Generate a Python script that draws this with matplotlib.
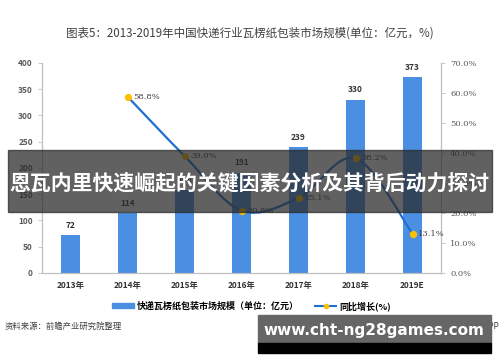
import matplotlib
matplotlib.use("Agg")
import matplotlib.pyplot as plt
from matplotlib.path import Path
from matplotlib.patches import PathPatch, Rectangle
from matplotlib.lines import Line2D
from matplotlib.patches import Patch

plt.rcParams['font.family'] = ['Noto Sans CJK SC', 'DejaVu Sans']

years = ['2013年', '2014年', '2015年', '2016年', '2017年', '2018年', '2019E']
scale = [72, 114, 158, 191, 239, 330, 373]
growth = [None, 58.8, 39.0, 20.8, 25.1, 38.2, 13.1]
left_ticks = [0, 50, 100, 150, 200, 250, 300, 350, 400]
right_ticks = [0, 10, 20, 30, 40, 50, 60, 70]

bar_color = '#4a8fe2'
line_color = '#1f6fd1'
dot_color = '#ffc000'
grey = '#595959'

fig = plt.figure(figsize=(5.0, 3.62), dpi=100)
ax = fig.add_axes([0.084, 0.246, 0.798, 0.58])
ax2 = ax.twinx()

x = list(range(len(years)))
ax.bar(x, scale, width=0.32, color=bar_color, zorder=2)
for xi, v in zip(x, scale):
    ax.text(xi, v + 10, str(v), ha='center', va='bottom', fontsize=6,
            fontweight='bold', color='#333333')

ax.set_xlim(-0.5, len(years) - 0.5)
ax.set_ylim(0, 400)
ax.set_yticks(left_ticks)
ax.set_yticklabels([str(t) for t in left_ticks], fontsize=6, color=grey, fontweight='bold')
ax.set_xticks(x)
ax.set_xticklabels(years, fontsize=6, fontweight='bold', color='#333333')
ax.tick_params(axis='x', length=0, pad=6)
ax.tick_params(axis='y', length=3, color='#bfbfbf', width=0.6)

ax2.set_ylim(0, 70)
ax2.set_yticks(right_ticks)
ax2.set_yticklabels(['%.1f%%' % t for t in right_ticks], fontsize=6, color=grey,
                    family=['DejaVu Serif'])
ax2.tick_params(axis='y', length=3, color='#bfbfbf', width=0.6)

for a in (ax, ax2):
    a.spines['top'].set_visible(False)
    for s in ('left', 'right', 'bottom'):
        a.spines[s].set_color('#bfbfbf')
        a.spines[s].set_linewidth(0.8)

# smoothed line (Excel style) built as a bezier path through the points
gx = [xi for xi, g in zip(x, growth) if g is not None]
gy = [g for g in growth if g is not None]
verts = [(gx[0], gy[0])]
codes = [Path.MOVETO]
n = len(gx)
for i in range(n - 1):
    p0 = (gx[max(i - 1, 0)], gy[max(i - 1, 0)])
    p1 = (gx[i], gy[i])
    p2 = (gx[i + 1], gy[i + 1])
    p3 = (gx[min(i + 2, n - 1)], gy[min(i + 2, n - 1)])
    c1 = (p1[0] + (p2[0] - p0[0]) / 6, p1[1] + (p2[1] - p0[1]) / 6)
    c2 = (p2[0] - (p3[0] - p1[0]) / 6, p2[1] - (p3[1] - p1[1]) / 6)
    verts += [c1, c2, p2]
    codes += [Path.CURVE4] * 3
ax2.add_patch(PathPatch(Path(verts, codes), facecolor='none', edgecolor=line_color,
                        lw=1.6, zorder=3))
ax2.scatter(gx, gy, s=18, color=dot_color, zorder=4)
for xi, g in zip(gx, gy):
    ax2.text(xi + 0.1, g, '%.1f%%' % g, ha='left', va='center', fontsize=6,
             color='#404040', family=['DejaVu Serif'])

fig.text(0.5, 0.909, '图表5：2013-2019年中国快递行业瓦楞纸包装市场规模(单位：亿元，%)',
         ha='center', va='center', fontsize=8.3, color='#404040')

handles = [Patch(color=bar_color),
           Line2D([], [], color=line_color, lw=1.5, marker='o', markersize=3,
                  markerfacecolor=dot_color, markeredgecolor=dot_color)]
fig.legend(handles, ['快递瓦楞纸包装市场规模（单位：亿元）', '同比增长(%)'],
           loc='center left', bbox_to_anchor=(0.208, 0.155), ncol=2, frameon=False,
           handlelength=2.4, handleheight=0.55, columnspacing=1.8,
           handletextpad=0.3, prop={'weight': 'bold', 'size': 6.5})

fig.text(0.01, 0.099, '资料来源：前瞻产业研究院整理', ha='left', va='center',
         fontsize=6, color='#404040')
fig.text(0.998, 0.099, '@前瞻经济学人APP', ha='right', va='center',
         fontsize=6, color='#404040')

# overlay banners
fig.patches.append(Rectangle((0.016, 1 - 212 / 362), 0.968, 62 / 362,
                             transform=fig.transFigure, color='#2a2a2a',
                             alpha=0.74, zorder=10))
fig.text(0.5, 1 - 183 / 362, '恩瓦内里快速崛起的关键因素分析及其背后动力探讨',
         ha='center', va='center', fontsize=15, fontweight='bold',
         color='white', zorder=11)
fig.patches.append(Rectangle((258 / 500, 1 - 343 / 362), 233 / 500, 28 / 362,
                             transform=fig.transFigure, color='#666666', zorder=10))
fig.patches.append(Rectangle((258 / 500, 1 - 353 / 362), 233 / 500, 10 / 362,
                             transform=fig.transFigure, color='black', zorder=10))
fig.text(374 / 500, 1 - 331 / 362, 'www.cht-ng28games.com', ha='center', va='center',
         fontsize=11, fontweight='bold', color='white', family=['DejaVu Sans'],
         zorder=11)

fig.savefig('out.png', dpi=100)
